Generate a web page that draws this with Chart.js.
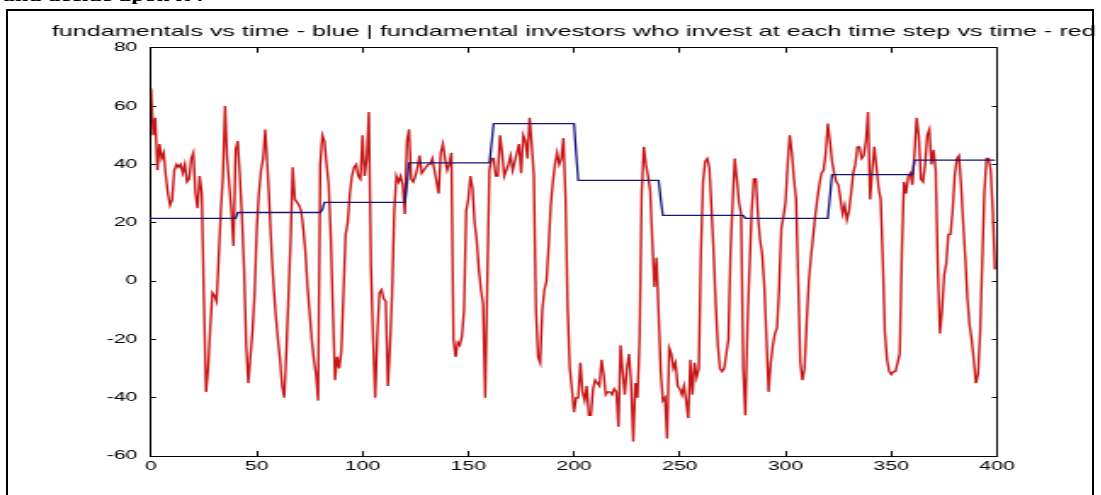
<!DOCTYPE html>
<html>
<head>
<meta charset="utf-8">
<script src="https://cdn.jsdelivr.net/npm/chart.js@4.4.1/dist/chart.umd.min.js"></script>
<style>
body{margin:0;background:#fff;overflow:hidden;width:1101px;height:495px;position:relative;}
#note{position:absolute;left:3px;top:-10px;font-family:"Liberation Serif","Times New Roman",serif;font-weight:bold;font-size:14px;line-height:14px;color:#000;transform:scaleX(1.7);transform-origin:0 0;white-space:nowrap;}
#frame{position:absolute;left:6px;top:9px;width:1088px;height:600px;border:2px solid #000;box-sizing:border-box;}
#wrap{position:absolute;left:0;top:0;transform:scaleX(1.7);transform-origin:0 0;}
</style>
</head>
<body>
<div id="note">and decide upon it :</div>
<div id="frame"></div>
<div id="wrap"><canvas id="chart" width="675" height="495"></canvas></div>
<script>
// the picture is stretched sideways, so the canvas is drawn narrow and widened by css
const SX = 1.7;

const titleText = "fundamentals vs time - blue | fundamental investors who invest at each time step vs time - red";

// fundamentals (blue), a step line
const fundTimes  = [0, 40, 41, 80, 81, 82, 120, 121, 122, 160, 161, 162, 200, 201, 202, 240, 241, 242, 280, 281, 320, 321, 322, 360, 361, 399];
const fundValues = [21.5, 21.5, 23.5, 23.5, 24.5, 27, 27, 33, 40.5, 40.5, 47, 54, 54, 44, 34.5, 34.5, 28, 22.5, 22.5, 21.5, 21.5, 29, 36.5, 36.5, 41.5, 41.5];

// fundamental investors who invest at each time step (red), t = 0..399
const investorCounts = [
66,50,56,38,47,42,44,36,30,26, 28,38,40,39,40,37,40,34,35,42,
44,30,25,36,30,-6,-38,-30,-16,-4, -5,-7,8,24,36,60,42,33,24,12,
45,48,36,22,4,-22,-35,-26,-17,-4, 18,30,38,42,52,40,26,10,-2,-12,
-20,-27,-36,-40,-24,-5,14,39,28,27, 26,24,18,10,-2,-11,-20,-27,-32,-41,
40,50,48,40,33,15,-10,-34,-26,-30, -24,-4,16,20,30,36,39,40,36,35,
50,36,42,58,5,-20,-40,-18,-4,-3, -6,-7,-36,-22,-4,24,36,34,36,33,
23,48,52,35,34,36,39,43,37,38, 39,40,40,42,38,34,30,44,47,42,
38,40,44,-20,-26,-21,-22,-19,-10,24, 28,36,32,20,14,4,-3,-8,-40,0,
38,42,42,36,36,50,44,36,38,40, 43,38,41,44,47,37,50,48,42,56,
47,36,-10,-26,-28,-10,-3,0,12,26, 34,40,44,40,42,49,28,-10,-30,-37,
-45,-40,-40,-28,-38,-41,-36,-46,-46,-37, -34,-35,-36,-27,-32,-39,-38,-38,-39,-37,
-38,-50,-22,-31,-39,-30,-25,-35,-55,-35, -40,-20,30,46,40,36,31,14,-2,8,
-11,-31,-41,-40,-54,-23,-25,-30,-28,-36, -37,-39,-36,-41,-47,-27,-39,-28,-33,-30,
10,34,41,42,39,25,10,-8,-22,-30, -31,-30,-25,-20,10,27,42,35,27,23,
-30,-46,-15,5,24,35,35,22,14,9, -2,-20,-38,-28,-22,-18,-16,-2,18,22,
27,40,50,44,35,28,0,-28,-34,-30, -14,0,8,15,22,28,33,37,38,44,
54,48,41,37,34,33,28,23,26,21, 24,30,37,40,46,46,42,43,48,58,
28,38,46,39,32,28,7,-18,-27,-31, -32,-31,-31,-28,-25,10,34,30,36,37,
33,44,56,50,35,34,40,50,52,40, 45,38,5,-18,-10,2,6,16,16,24,
36,42,43,33,20,8,-6,-15,-20,-27, -35,-32,-18,6,30,42,42,38,24,4
];

const xTicksStep = 50;
const yTicksStep = 20;
const xMin = 0, xMax = 400;
const yMin = -60, yMax = 80;

const timeSteps = [];
for (let t = 0; t < investorCounts.length; t++) timeSteps.push(t);

const plotLeft = 151 / SX;
const plotRight = 997 / SX;
const canvasW = 675;

const fontFam = '"Liberation Sans", Arial, Helvetica, sans-serif';

function axisX(pos, showLabels){
  return {
    type: 'linear', position: pos, min: xMin, max: xMax,
    ticks: { display: showLabels, stepSize: xTicksStep, color: '#000', padding: 8.5, maxRotation: 0, autoSkip: false,
             font: { family: fontFam, size: 12.5 } },
    grid: { drawOnChartArea: false, drawTicks: true, tickLength: -5, color: '#000', lineWidth: 1 },
    border: { display: true, color: '#000', width: 1 },
    afterFit: function(scale){ scale.height = pos === 'top' ? 7 : 39; }
  };
}

function axisY(pos, showLabels){
  return {
    type: 'linear', position: pos, min: yMin, max: yMax,
    ticks: { display: showLabels, stepSize: yTicksStep, color: '#000', padding: 11,
             font: { family: fontFam, size: 12.5 } },
    grid: { drawOnChartArea: false, drawTicks: true, tickLength: -3, color: '#000', lineWidth: 1 },
    border: { display: true, color: '#000', width: 1 },
    afterFit: function(scale){ scale.width = pos === 'left' ? plotLeft : canvasW - plotRight; }
  };
}

new Chart(document.getElementById('chart'), {
  type: 'line',
  data: {
    datasets: [
      {
        label: 'fundamentals',
        data: fundTimes.map((t, i) => ({ x: t, y: fundValues[i] })),
        borderColor: '#15157a',
        borderWidth: 1.3,
        pointRadius: 0,
        tension: 0,
        order: 0,
        xAxisID: 'x', yAxisID: 'y'
      },
      {
        label: 'investors',
        data: timeSteps.map((t, i) => ({ x: t, y: investorCounts[i] })),
        borderColor: '#c81414',
        borderWidth: 1.4,
        pointRadius: 0,
        tension: 0,
        order: 1,
        xAxisID: 'x', yAxisID: 'y'
      }
    ]
  },
  options: {
    responsive: false,
    animation: false,
    devicePixelRatio: 1,
    layout: { padding: 0 },
    plugins: {
      legend: { display: false },
      tooltip: { enabled: false },
      title: {
        display: true,
        text: titleText,
        color: '#000',
        font: { family: fontFam, size: 14.8, weight: 'normal' },
        padding: { top: 23, bottom: 0 }
      }
    },
    scales: {
      x: axisX('bottom', true),
      xTop: axisX('top', false),
      y: axisY('left', true),
      yRight: axisY('right', false)
    }
  }
});
</script>
</body>
</html>
